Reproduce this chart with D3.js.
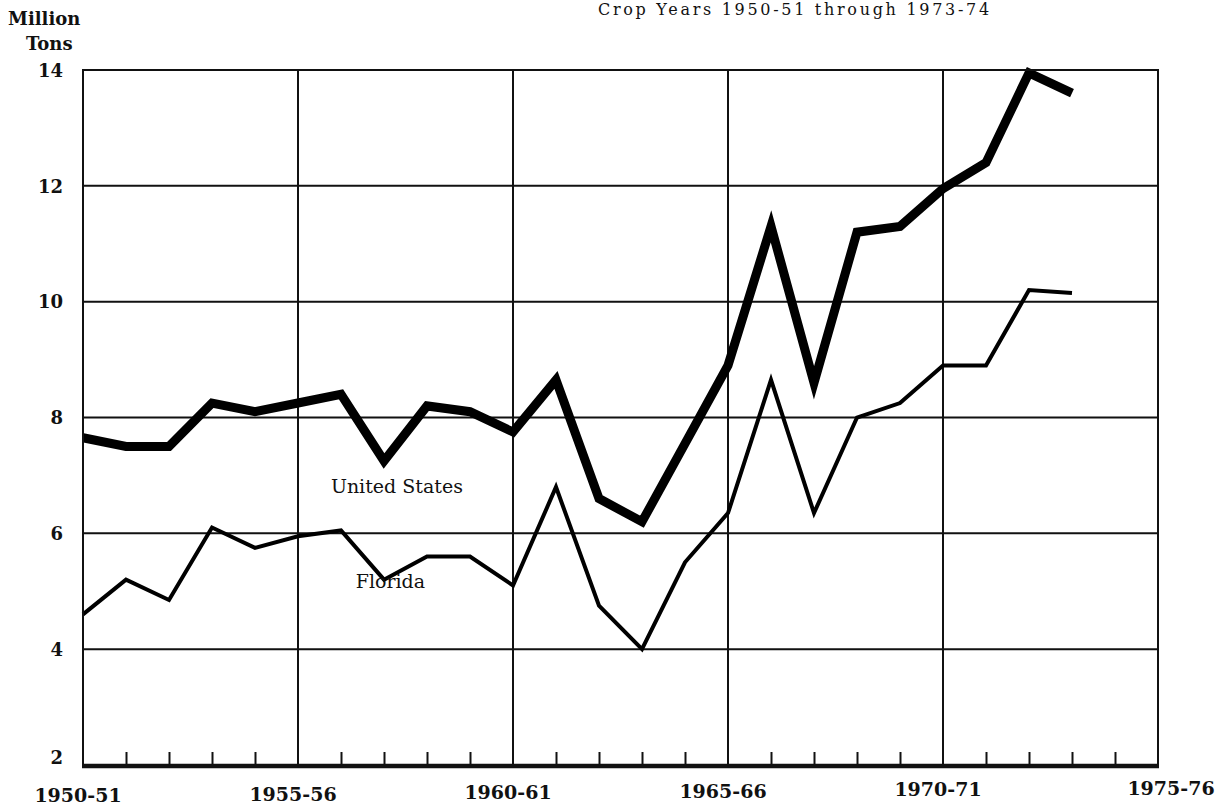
<!DOCTYPE html>
<html>
<head>
<meta charset="utf-8">
<script src="https://cdn.jsdelivr.net/npm/d3@7"></script>
<style>
  body { margin: 0; background: #fff; }
  text { font-family: "DejaVu Serif", serif; fill: #111; }
</style>
</head>
<body>
<div id="root"></div>
<script>
var config = {
  width: 1223,
  height: 805,
  left: 83,
  right: 1158,
  top: 70,
  bottom: 765
};

// Crop years, 1950-51 is index 0
const cropYears = d3.range(1950, 1974).map(y => `${y}-${String(y + 1).slice(2)}`);
const unitedStates = [7.65, 7.5, 7.5, 8.25, 8.1, 8.25, 8.4, 7.25, 8.2, 8.1, 7.75, 8.65,
  6.6, 6.2, 7.55, 8.9, 11.3, 8.6, 11.2, 11.3, 11.95, 12.4, 13.95, 13.6];
const florida = [4.6, 5.2, 4.85, 6.1, 5.75, 5.95, 6.05, 5.2, 5.6, 5.6, 5.1, 6.8,
  4.75, 4.0, 5.5, 6.35, 8.65, 6.35, 8.0, 8.25, 8.9, 8.9, 10.2, 10.15];
const yTicks = [2, 4, 6, 8, 10, 12, 14];
const xTickYears = [1950, 1955, 1960, 1965, 1970, 1975];
const xTickLabels = ['1950-51', '1955-56', '1960-61', '1965-66', '1970-71', '1975-76'];

const x = d3.scaleLinear().domain([1950, 1975]).range([config.left, config.right]);
const y = d3.scaleLinear().domain([2, 14]).range([config.bottom, config.top]);

const chart = d3.select('#root')
  .append('svg:svg')
  .attr('width', config.width)
  .attr('height', config.height);

// Title (partly cut off in the original scan)
chart.append('text')
  .attr('x', 598)
  .attr('y', 15)
  .attr('font-size', 16)
  .attr('letter-spacing', 2.7)
  .text('Crop Years 1950-51 through 1973-74');

// Unit label
chart.append('text').attr('x', 8).attr('y', 25)
  .attr('font-size', 18).attr('font-weight', 'bold').text('Million');
chart.append('text').attr('x', 26).attr('y', 50)
  .attr('font-size', 18).attr('font-weight', 'bold').text('Tons');

// Grid
const grid = chart.append('g').attr('stroke', '#111').attr('stroke-width', 2);
grid.selectAll('.hgrid')
  .data(yTicks.filter(d => d > 2))
  .enter()
    .append('line')
    .attr('x1', config.left).attr('x2', config.right)
    .attr('y1', d => y(d)).attr('y2', d => y(d));
grid.selectAll('.vgrid')
  .data(xTickYears)
  .enter()
    .append('line')
    .attr('x1', d => x(d)).attr('x2', d => x(d))
    .attr('y1', config.top).attr('y2', config.bottom);

// Bottom axis with a tick for every crop year
const xAxis = d3.axisBottom(x)
  .tickValues(d3.range(1951, 1975).filter(d => d % 5 !== 0))
  .tickSize(-13)
  .tickFormat('');
const axisG = chart.append('g')
  .attr('transform', `translate(0,${config.bottom})`)
  .call(xAxis);
axisG.select('.domain').remove();
axisG.selectAll('.tick line').attr('stroke', '#111').attr('stroke-width', 2);
chart.append('line')
  .attr('x1', config.left - 1).attr('x2', config.right + 1)
  .attr('y1', config.bottom + 1).attr('y2', config.bottom + 1)
  .attr('stroke', '#111').attr('stroke-width', 4.5);

// Y labels
const yAxis = d3.axisLeft(y).tickValues(yTicks).tickSize(0).tickPadding(20);
const yG = chart.append('g')
  .attr('transform', `translate(${config.left},0)`)
  .call(yAxis);
yG.select('.domain').remove();
yG.selectAll('.tick text')
  .attr('font-family', '"DejaVu Serif", serif')
  .attr('font-size', 18)
  .attr('font-weight', 'bold')
  .attr('fill', '#111')
  .attr('dy', d => d === 2 ? '-0.1em' : '0.35em');

// X labels
chart.selectAll('.xlabel')
  .data(xTickYears)
  .enter()
    .append('text')
    .attr('x', (d, i) => x(d) + (i === xTickYears.length - 1 ? 13 : -5))
    .attr('y', (d, i) => 802 - i * 1.5)
    .attr('text-anchor', 'middle')
    .attr('font-size', 19)
    .attr('font-weight', 'bold')
    .text((d, i) => xTickLabels[i]);

// Series lines
const line = d3.line()
  .x((d, i) => x(1950 + i))
  .y(d => y(d));

chart.append('path')
  .attr('d', line(florida))
  .attr('fill', 'none')
  .attr('stroke', '#000')
  .attr('stroke-width', 4)
  .attr('stroke-linejoin', 'miter');

chart.append('path')
  .attr('d', line(unitedStates))
  .attr('fill', 'none')
  .attr('stroke', '#000')
  .attr('stroke-width', 9)
  .attr('stroke-linejoin', 'miter');

// Series names
chart.append('text')
  .attr('x', x(1957.3)).attr('y', y(6.7))
  .attr('text-anchor', 'middle')
  .attr('font-size', 19)
  .text('United States');
chart.append('text')
  .attr('x', x(1957.15)).attr('y', y(5.05))
  .attr('text-anchor', 'middle')
  .attr('font-size', 19)
  .text('Florida');

// Plot frame
chart.append('rect')
  .attr('x', config.left).attr('y', config.top)
  .attr('width', config.right - config.left)
  .attr('height', config.bottom - config.top)
  .attr('fill', 'none')
  .attr('stroke', '#111')
  .attr('stroke-width', 2);
</script>
</body>
</html>
